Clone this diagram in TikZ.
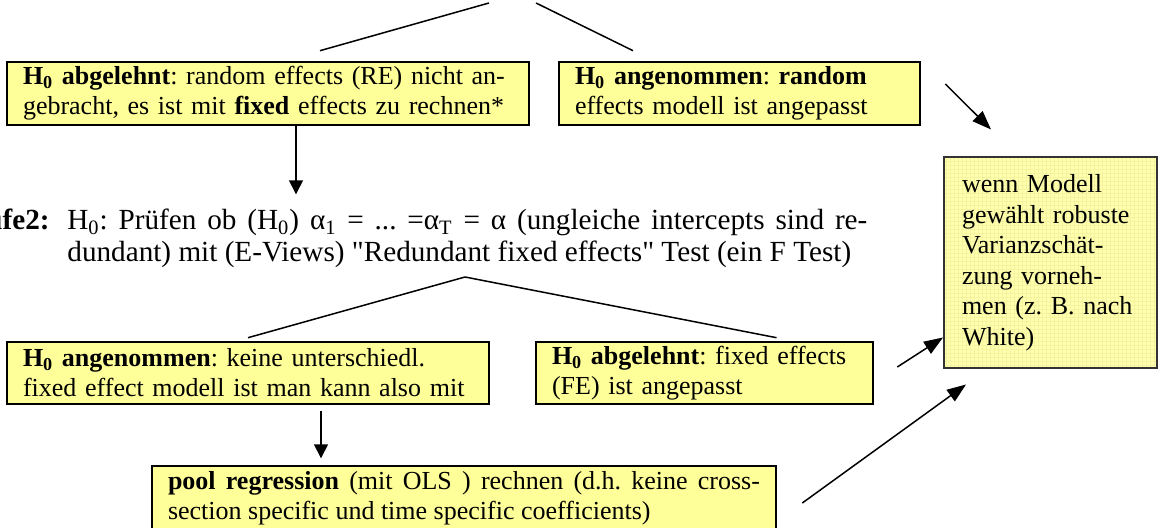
\documentclass[tikz,border=0pt]{standalone}
\usepackage{fontspec}
\setmainfont{Liberation Serif}
\frenchspacing
\usetikzlibrary{arrows.meta}
\definecolor{boxyellow}{HTML}{FFFF99}
\definecolor{paleyellow}{HTML}{FFFFAE}
\definecolor{gridyellow}{HTML}{F3F3A0}
\tikzset{
  testbox/.style={draw, line width=1.3pt, fill=boxyellow, inner sep=0pt, align=left,
    font=\fontsize{13}{15}\selectfont},
  downarrow/.style={-{Triangle[length=7pt,width=7pt]}, line width=0.75pt},
  sidearrow/.style={-{Triangle[length=9.5pt,width=7pt]}, line width=0.75pt},
  branch/.style={line width=0.75pt}
}
\begin{document}
\begin{tikzpicture}[x=0.5pt,y=-0.5pt]
\useasboundingbox (0,0) rectangle (1160,528);
\clip (0,0) rectangle (1160,528);

\node[testbox, minimum width=261pt, minimum height=31.5pt, text width=245pt] (rej1) at (268,93.5)
  {\textbf{H\textsubscript{0} abgelehnt}: random effects (RE) nicht an-\\gebracht, es ist mit \textbf{fixed} effects zu rechnen*};
\node[testbox, minimum width=180.5pt, minimum height=31.5pt, text width=164.5pt] (acc1) at (739.5,93.5)
  {\textbf{H\textsubscript{0} angenommen}: \textbf{random}\\effects modell ist angepasst};

\node[anchor=base east, inner sep=0pt, font=\fontsize{14.6}{16}\selectfont] (stufelabel) at (50,230) {\textbf{Stufe2:}};
\node[anchor=base west, inner sep=0pt, text width=400pt, align=justify, font=\fontsize{14.6}{16}\selectfont] (stufe) at (67,230)
  {H\textsubscript{0}: Prüfen ob (H\textsubscript{0}) α\textsubscript{1} = ... =α\textsubscript{T} = α (ungleiche intercepts sind re-\linebreak
   dundant) mit (E-Views) \textquotedbl Redundant fixed effects\textquotedbl\ Test (ein F Test)};

\node[testbox, minimum width=241pt, minimum height=31pt, text width=225pt] (acc2) at (248,373)
  {\textbf{H\textsubscript{0} angenommen}: keine unterschiedl.\\fixed effect modell ist man kann also mit};
\node[testbox, minimum width=168.5pt, minimum height=31pt, text width=152.5pt] (rej2) at (704.5,373)
  {\textbf{H\textsubscript{0} abgelehnt}: fixed effects\\(FE) ist angepasst};
\node[testbox, minimum width=312pt, minimum height=32pt, text width=296pt, align=justify] (pool) at (464,498)
  {\textbf{pool regression} (mit OLS ) rechnen (d.h. keine cross-\linebreak section specific und time specific coefficients)};

\node[draw=black!80, line width=1pt, fill=paleyellow, inner sep=0pt, minimum width=106.5pt, minimum height=105.5pt,
  text width=88.5pt, align=left, font=\fontsize{13}{15.25}\selectfont,
  path picture={\draw[gridyellow, line width=0.2pt, step=2pt] (path picture bounding box.south west) grid (path picture bounding box.north east);}]
  (robust) at (1050.5,263)
  {wenn Modell\\gewählt robuste\\Varianzschät-\\zung vorneh-\\men (z. B. nach\\White)};

\coordinate (in1) at (489,3);
\coordinate (in2) at (536,3);
\coordinate (fork) at (465,277);

\draw[branch] (in1) -- ([xshift=26pt,yshift=5pt]rej1.north);
\draw[branch] (in2) -- ([xshift=-53.25pt,yshift=5pt]acc1.north);
\draw[downarrow] ([xshift=14pt]rej1.south) -- ++(0,68);
\draw[branch] (fork) -- ([yshift=1.5pt]acc2.north);
\draw[branch] (fork) -- ([xshift=36pt,yshift=1.5pt]rej2.north);
\draw[downarrow] ([xshift=36.5pt,yshift=-3pt]acc2.south) -- ++(0,47);

\draw[sidearrow] ([xshift=12pt,yshift=4.75pt]acc1.east) -- ([xshift=24pt,yshift=13.5pt]robust.north west);
\draw[sidearrow] ([xshift=11.5pt,yshift=3pt]rej2.east) -- ([yshift=16pt]robust.south west);
\draw[sidearrow] ([xshift=12.5pt,yshift=-2.5pt]pool.east) -- ([xshift=11.5pt,yshift=-7.5pt]robust.south west);
\end{tikzpicture}
\end{document}
